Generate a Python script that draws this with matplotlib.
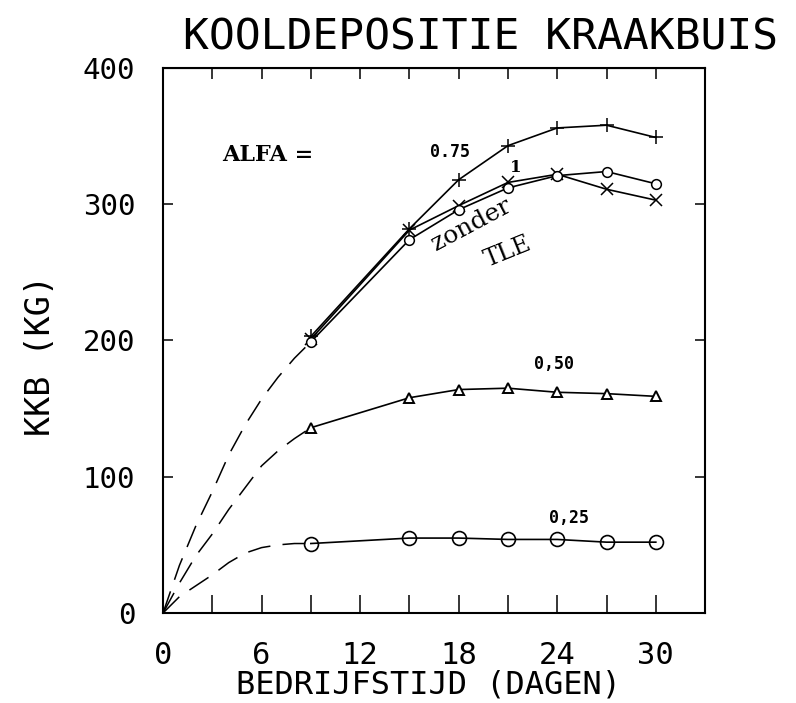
import numpy as np
import matplotlib
matplotlib.use("Agg")
import matplotlib.pyplot as plt

# data
dagen = [9, 15, 18, 21, 24, 27, 30]
alfa_075 = [203, 282, 318, 343, 356, 358, 349]
alfa_1 = [199, 274, 296, 312, 321, 324, 315]
zonder_tle = [201, 281, 299, 316, 322, 311, 303]
alfa_050 = [136, 158, 164, 165, 162, 161, 159]
alfa_025 = [51, 55, 55, 54, 54, 52, 52]

# dashed start-up parts (origin to first measurement)
dagen_start = [0, 1, 2, 3, 4, 5, 6, 7, 8, 9]
start_hoog = [0, 35, 64, 89, 116, 138, 157, 173, 187, 199]
start_mid = [0, 22, 42, 58, 76, 92, 108, 119, 128, 136]
start_laag = [0, 12, 20, 28, 37, 44, 48, 50, 51, 51]

x_ticks = [0, 6, 12, 18, 24, 30]
y_ticks = [0, 100, 200, 300, 400]

mono = "DejaVu Sans Mono"
serif = "DejaVu Serif"

fig = plt.figure(figsize=(7.96, 7.03), dpi=100)
ax = fig.add_axes([0.2048, 0.128, 0.681, 0.7753])

lw = 1.2
ax.plot(dagen, alfa_075, color="black", lw=lw, marker="+", ms=10, mew=1.1)
ax.plot(dagen, zonder_tle, color="black", lw=lw, marker="x", ms=8, mew=1.1)
ax.plot(dagen, alfa_1, color="black", lw=lw, marker="o", ms=7, mfc="white", mew=1.1)
ax.plot(dagen, alfa_050, color="black", lw=lw, marker="^", ms=7, mfc="white", mew=1.4)
ax.plot(dagen, alfa_025, color="black", lw=lw, marker="o", ms=10, mfc="none", mew=1.2)

for ys in (start_hoog, start_mid, start_laag):
    ax.plot(dagen_start, ys, color="black", lw=1.1, dashes=(15, 8))

ax.set_xlim(0, 33)
ax.set_ylim(0, 400)
ax.set_xticks(x_ticks)
ax.set_xticks([3, 9, 15, 21, 27], minor=True)
ax.set_yticks(y_ticks)
ax.tick_params(axis="x", which="both", direction="in", length=13, width=1.1,
               top=False, pad=20, labelsize=22)
ax.tick_params(axis="y", which="both", direction="in", length=7, width=1.1,
               right=True, pad=20, labelsize=21)
for lab in ax.get_xticklabels() + ax.get_yticklabels():
    lab.set_family(mono)

# shorter ticks along the top
top = ax.secondary_xaxis("top")
top.set_xticks([3, 6, 9, 12, 15, 18, 21, 24, 27, 30])
top.tick_params(direction="in", length=8, width=1.1, labeltop=False)

for sp in ax.spines.values():
    sp.set_linewidth(1.5)

fig.text(428 / 796, 1 - 685 / 703, "BEDRIJFSTIJD (DAGEN)", family=mono,
         fontsize=23, ha="center", va="center")
fig.text(40 / 796, 1 - 355 / 703, "KKB (KG)", family=mono, fontsize=24,
         rotation=90, ha="center", va="center")
fig.text(0.604, 0.946, "KOOLDEPOSITIE KRAAKBUIS", family=mono, fontsize=31,
         ha="center", va="center")

# labels inside the plot
ax.text(6.4, 336, "ALFA =", family=serif, fontsize=16, weight="bold",
        ha="center", va="center")
ax.text(17.5, 338, "0.75", family=mono, fontsize=12, weight="bold", ha="center", va="center")
ax.text(21.5, 327, "1", family=serif, fontsize=12, weight="bold", ha="center", va="center")
ax.text(18.8, 285, "zonder", family=serif, fontsize=18, rotation=28,
        ha="center", va="center")
ax.text(21.0, 265, "TLE", family=serif, fontsize=17, rotation=22,
        ha="center", va="center")
ax.text(23.8, 183, "0,50", family=mono, fontsize=12, weight="bold", ha="center", va="center")
ax.text(24.7, 70, "0,25", family=mono, fontsize=12, weight="bold", ha="center", va="center")

fig.savefig("out.png", dpi=100)
